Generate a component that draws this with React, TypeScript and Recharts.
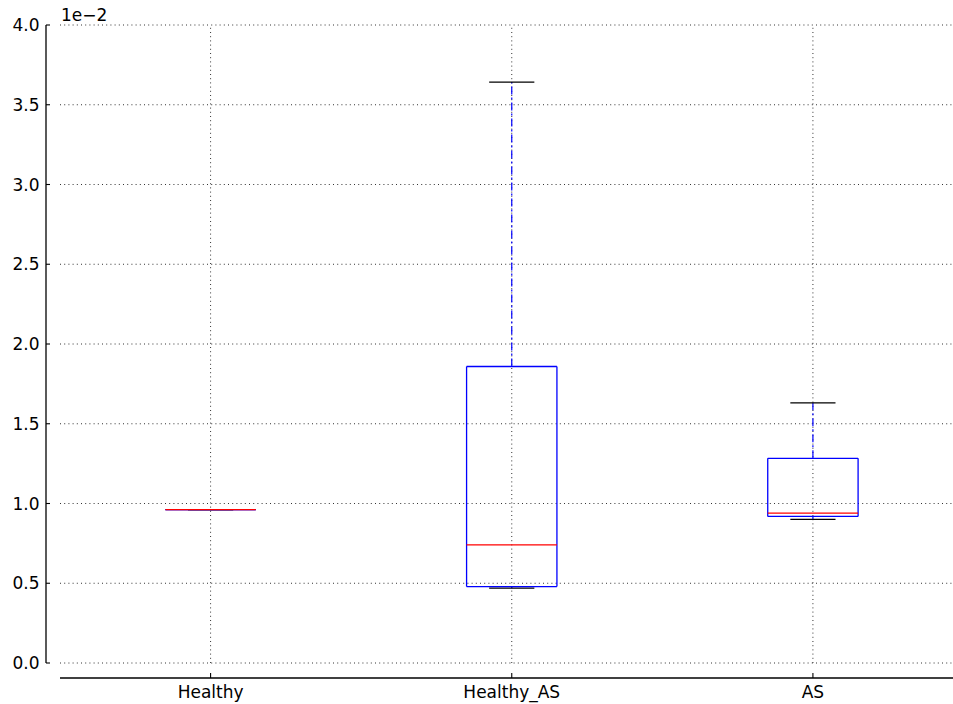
import React from "react";
import { ComposedChart, XAxis, YAxis, ReferenceLine } from "recharts";

// box plot summary values, in units of 1e-2
const categories = ["Healthy", "Healthy_AS", "AS"];
const positions = [1, 2, 3];
const whiskerLow = [0.961, 0.469, 0.9];
const q1 = [0.961, 0.479, 0.919];
const medians = [0.961, 0.741, 0.94];
const q3 = [0.961, 1.859, 1.283];
const whiskerHigh = [0.961, 3.642, 1.631];
const yTicks = [0, 0.5, 1, 1.5, 2, 2.5, 3, 3.5, 4];

const PX_PER_X = 301; // px per category step
const PX_PER_Y = 159.5; // px per 1e-2
// axes limits like matplotlib's, the spines sit outside them (offset outward)
const X_LIM: [number, number] = [0.5, 3.5];
const Y_LIM: [number, number] = [0, 4];
const Y_SPINE_X = X_LIM[0] - 14 / PX_PER_X;
const X_SPINE_Y = Y_LIM[0] - 15 / PX_PER_Y;
const X_DOMAIN: [number, number] = [Y_SPINE_X, X_LIM[1]];
const Y_DOMAIN: [number, number] = [X_SPINE_Y, Y_LIM[1]];
const HALF_BOX = 0.15;
const HALF_CAP = 0.075;

const BLUE = "#0000ff";
const RED = "#ff0000";
const GRID = "#333";
const FONT = "'DejaVu Sans', sans-serif";

type Seg = { key: string; a: [number, number]; b: [number, number]; color: string; width: number; dash?: string };

function buildSegments(): Seg[] {
  const segs: Seg[] = [];
  // dotted grid inside the axes limits
  yTicks.forEach((t) =>
    segs.push({ key: "gh" + t, a: [X_LIM[0], t], b: [X_LIM[1], t], color: GRID, width: 1, dash: "1 3.2" })
  );
  positions.forEach((p) =>
    segs.push({ key: "gv" + p, a: [p, Y_LIM[0]], b: [p, Y_LIM[1]], color: GRID, width: 1, dash: "1 3.2" })
  );
  // offset spines and inward ticks
  segs.push({ key: "yspine", a: [Y_SPINE_X, Y_LIM[0]], b: [Y_SPINE_X, Y_LIM[1]], color: "#000", width: 1.3 });
  segs.push({ key: "xspine", a: [X_LIM[0], X_SPINE_Y], b: [X_LIM[1], X_SPINE_Y], color: "#000", width: 1.5 });
  yTicks.forEach((t) =>
    segs.push({ key: "yt" + t, a: [Y_SPINE_X, t], b: [Y_SPINE_X + 4 / PX_PER_X, t], color: "#000", width: 1.1 })
  );
  positions.forEach((p) =>
    segs.push({ key: "xt" + p, a: [p, X_SPINE_Y], b: [p, X_SPINE_Y + 5 / PX_PER_Y], color: "#000", width: 1.1 })
  );

  positions.forEach((p, i) => {
    const dash = "8 3 2 3";
    // whiskers
    segs.push({ key: "wu" + i, a: [p, q3[i]], b: [p, whiskerHigh[i]], color: BLUE, width: 1.2, dash });
    segs.push({ key: "wl" + i, a: [p, q1[i]], b: [p, whiskerLow[i]], color: BLUE, width: 1.2, dash });
    // caps
    segs.push({ key: "cu" + i, a: [p - HALF_CAP, whiskerHigh[i]], b: [p + HALF_CAP, whiskerHigh[i]], color: "#000", width: 1.3 });
    segs.push({ key: "cl" + i, a: [p - HALF_CAP, whiskerLow[i]], b: [p + HALF_CAP, whiskerLow[i]], color: "#000", width: 1.3 });
    // box
    segs.push({ key: "bl" + i, a: [p - HALF_BOX, q1[i]], b: [p - HALF_BOX, q3[i]], color: BLUE, width: 1.3 });
    segs.push({ key: "br" + i, a: [p + HALF_BOX, q1[i]], b: [p + HALF_BOX, q3[i]], color: BLUE, width: 1.3 });
    segs.push({ key: "bb" + i, a: [p - HALF_BOX, q1[i]], b: [p + HALF_BOX, q1[i]], color: BLUE, width: 1.3 });
    segs.push({ key: "bt" + i, a: [p - HALF_BOX, q3[i]], b: [p + HALF_BOX, q3[i]], color: BLUE, width: 1.3 });
    // median
    segs.push({ key: "md" + i, a: [p - HALF_BOX, medians[i]], b: [p + HALF_BOX, medians[i]], color: RED, width: 1.2 });
  });
  return segs;
}

export default function App() {
  const segments = buildSegments();
  return (
    <div style={{ position: "absolute", left: 0, top: 0, width: 953, height: 704, overflow: "hidden", background: "#fff" }}>
      <div style={{ position: "absolute", left: 61, top: 5, fontFamily: FONT, fontSize: 17, color: "#000" }}>1e−2</div>
      <ComposedChart width={964} height={704} margin={{ top: 25, right: 0.5, bottom: 0, left: 0 }}>
        <XAxis
          type="number"
          dataKey="x"
          domain={X_DOMAIN}
          ticks={positions}
          allowDataOverflow
          height={26}
          tickLine={false}
          axisLine={false}
          tickSize={6}
          tickMargin={2}
          tickFormatter={(v: number) => categories[positions.indexOf(v)] ?? ""}
          tick={{ fontSize: 17, fill: "#000", fontFamily: FONT }}
        />
        <YAxis
          type="number"
          domain={Y_DOMAIN}
          ticks={yTicks}
          allowDataOverflow
          width={46}
          tickLine={false}
          axisLine={false}
          tickSize={6}
          tickMargin={0.5}
          tickFormatter={(v: number) => v.toFixed(1)}
          tick={{ fontSize: 17, fill: "#000", fontFamily: FONT }}
        />
        {segments.map((s) => (
          <ReferenceLine
            key={s.key}
            segment={[
              { x: s.a[0], y: s.a[1] },
              { x: s.b[0], y: s.b[1] },
            ]}
            stroke={s.color}
            strokeWidth={s.width}
            strokeDasharray={s.dash}
            ifOverflow="visible"
          />
        ))}
      </ComposedChart>
    </div>
  );
}
